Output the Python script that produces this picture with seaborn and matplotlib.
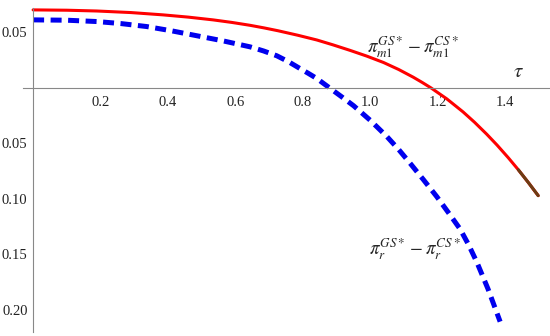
import pandas as pd
import matplotlib
matplotlib.use("Agg")
import matplotlib.pyplot as plt
from matplotlib.ticker import MultipleLocator, FixedLocator, FuncFormatter
import seaborn as sns

# values
tau_m1 = [0.0, 0.1, 0.189, 0.29, 0.386, 0.46, 0.534, 0.59, 0.644, 0.685, 0.727, 0.785,
          0.842, 0.89, 0.941, 0.99, 1.04, 1.085, 1.128, 1.155, 1.181, 1.228, 1.276,
          1.31, 1.346, 1.377, 1.41, 1.44, 1.47, 1.499]
diff_m1 = [0.0703, 0.0700, 0.0693, 0.0679, 0.0658, 0.0638, 0.0613, 0.0590, 0.0564, 0.0541,
           0.0515, 0.0475, 0.0432, 0.0388, 0.0338, 0.0287, 0.0229, 0.0166, 0.0097, 0.0049,
           0.0, -0.0099, -0.0216, -0.0309, -0.0416, -0.0515, -0.0628, -0.0737, -0.0853,
           -0.0970]

tau_r = [0.0, 0.1, 0.189, 0.26, 0.337, 0.41, 0.486, 0.565, 0.644, 0.684, 0.723, 0.758,
         0.792, 0.817, 0.842, 0.880, 0.915, 0.951, 1.0, 1.05, 1.085, 1.119, 1.158, 1.198,
         1.233, 1.267, 1.292, 1.317, 1.35, 1.386]
diff_r = [0.0613, 0.0610, 0.0598, 0.0580, 0.0553, 0.0515, 0.0470, 0.0423, 0.0370, 0.0333,
          0.0290, 0.0236, 0.0175, 0.0131, 0.0085, 0.0, -0.0078, -0.016, -0.029, -0.0438,
          -0.0555, -0.0679, -0.0825, -0.0979, -0.1125, -0.127, -0.141, -0.157, -0.181,
          -0.2105]

x_ticks = [0.2, 0.4, 0.6, 0.8, 1.0, 1.2, 1.4]
y_ticks = [-0.20, -0.15, -0.10, -0.05, 0.05]

label_m1 = r'$\pi_{m1}^{GS*}-\pi_{m1}^{CS*}$'
label_r = r'$\pi_{r}^{GS*}-\pi_{r}^{CS*}$'

df_m1 = pd.DataFrame({'tau': tau_m1, 'diff': diff_m1})
df_r = pd.DataFrame({'tau': tau_r, 'diff': diff_r})

sns.set_style('white')
plt.rcParams['font.family'] = ['Liberation Serif', 'DejaVu Serif']
plt.rcParams['mathtext.fontset'] = 'stix'

fig = plt.figure(figsize=(5.5, 3.36), dpi=100)
ax = fig.add_axes([23 / 550, 3.8 / 336, 527 / 550, 324.2 / 336])

sns.lineplot(data=df_m1, x='tau', y='diff', color='#ff0000', linewidth=2.2, ax=ax, sort=False)
# darker tail at the end of the red curve
sns.lineplot(data=df_m1[df_m1['tau'] >= 1.44], x='tau', y='diff', color='#6b3d14',
             linewidth=2.2, ax=ax, sort=False)
sns.lineplot(data=df_r, x='tau', y='diff', color='#0000ee', linewidth=3.6, ax=ax, sort=False)
ax.lines[-1].set_dashes([2.2, 1.3])
for ln in ax.lines:
    ln.set_solid_joinstyle('round')
    ln.set_dash_joinstyle('round')

ax.set_xlim(-0.03, 1.534)
ax.set_ylim(-0.22, 0.072)

for side in ['top', 'right']:
    ax.spines[side].set_visible(False)
ax.spines['left'].set_position(('data', 0))
ax.spines['bottom'].set_position(('data', 0))
for side in ['left', 'bottom']:
    ax.spines[side].set_color('#888888')
    ax.spines[side].set_linewidth(0.8)

ax.xaxis.set_major_locator(FixedLocator(x_ticks))
ax.xaxis.set_minor_locator(MultipleLocator(0.05))
ax.yaxis.set_major_locator(FixedLocator(y_ticks))
ax.yaxis.set_minor_locator(MultipleLocator(0.01))
ax.xaxis.set_major_formatter(FuncFormatter(lambda v, p: '%.1f' % v))
ax.yaxis.set_major_formatter(FuncFormatter(lambda v, p: '%.2f' % abs(v)))

ax.tick_params(which='both', direction='in', color='#888888', labelsize=10.5, labelcolor='#222222')
ax.tick_params(which='major', length=3.5, width=0.8)
ax.tick_params(which='minor', length=2, width=0.6)
ax.tick_params(axis='x', pad=5.5)
ax.tick_params(axis='y', pad=4)

ax.set_xlabel('')
ax.set_ylabel('')
ax.grid(False)

ax.text(1.44, 0.0135, r'$\tau$', fontsize=15, ha='center', va='center')
ax.text(1.128, 0.037, label_m1, fontsize=13.5, ha='center', va='center')
ax.text(1.134, -0.145, label_r, fontsize=13.5, ha='center', va='center')

fig.savefig('out.png', dpi=100)
